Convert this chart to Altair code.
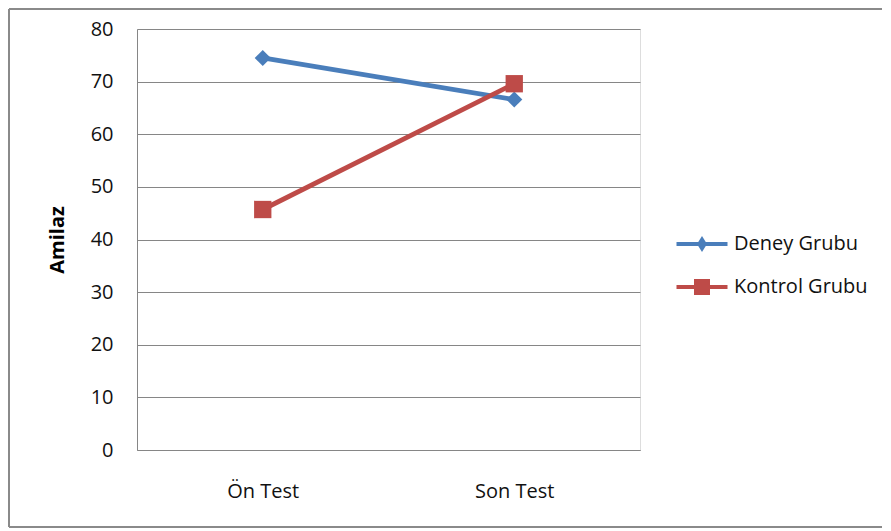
import altair as alt
import pandas as pd

tests = ["Ön Test", "Son Test"]
groups = ["Deney Grubu", "Kontrol Grubu"]
deney = [74.5, 66.6]
kontrol = [45.7, 69.6]
colors = ["#4A7EBB", "#BE4B48"]
y_ticks = [0, 10, 20, 30, 40, 50, 60, 70, 80]
legend_paths = [
    "M-2.55,-0.2H2.55V0.2H-2.55Z M0,-0.8L0.5,0L0,0.8L-0.5,0Z",
    "M-2.55,-0.2H2.55V0.2H-2.55Z M-0.8,-0.8H0.8V0.8H-0.8Z",
]

rows = []
for g, vals in zip(groups, [deney, kontrol]):
    for t, v in zip(tests, vals):
        rows.append({"test": t, "group": g, "value": v})
df = pd.DataFrame(rows)

FONT = "Open Sans"
GRID = "#868686"
BORDER = "#8a8a8a"

x_enc = alt.X(
    "test:N", sort=tests, scale=alt.Scale(domain=tests),
    axis=alt.Axis(title=None, labelAngle=0, ticks=False, domainColor=GRID, domainWidth=1,
                  labelFontSize=20, labelPadding=31, labelColor="#111", grid=False, labelFont=FONT),
)
y_enc = alt.Y(
    "value:Q", scale=alt.Scale(domain=[0, 80], nice=False, zero=True),
    axis=alt.Axis(values=y_ticks, title="Amilaz", ticks=False, domainColor=GRID, domainWidth=1,
                  gridColor=GRID, gridWidth=1, gridOpacity=1, labelFontSize=20, labelPadding=24,
                  labelColor="#111", labelFont=FONT, titleFont=FONT, titleFontSize=20,
                  titleFontWeight="bold", titleColor="#000", titlePadding=23),
)

base = alt.Chart(df)
layers = []
for g, c, shp, sz in zip(groups, colors, ["diamond", "square"], [260, 300]):
    sub = base.transform_filter(alt.datum.group == g)
    layers.append(sub.mark_line(color=c, strokeWidth=4.8).encode(x=x_enc, y=y_enc))
    layers.append(sub.mark_point(color=c, filled=True, opacity=1, shape=shp, size=sz).encode(x=x_enc, y=y_enc))

leg = alt.Legend(title=None, orient="none", legendX=555, legendY=205, symbolSize=400,
                 symbolStrokeWidth=0, symbolOpacity=1, labelFont=FONT, labelFontSize=20,
                 labelColor="#111", labelOffset=22, rowPadding=23, labelLimit=200)
legend_layer = base.transform_filter("false").mark_point(filled=True, size=400, opacity=1).encode(
    x=x_enc, y=y_enc,
    color=alt.Color("group:N", scale=alt.Scale(domain=groups, range=colors), legend=leg),
    shape=alt.Shape("group:N", scale=alt.Scale(domain=groups, range=legend_paths), legend=leg),
)
layers.append(legend_layer)

one = alt.Data(values=[{"k": 1}])
top_rule = alt.Chart(one).mark_rule(color=BORDER, strokeWidth=2).encode(
    x=alt.value(-128), x2=alt.value(745), y=alt.value(-20))
left_rule = alt.Chart(one).mark_rule(color=BORDER, strokeWidth=2).encode(
    x=alt.value(-128), y=alt.value(-20), y2=alt.value(498))
bottom_rule = alt.Chart(one).mark_rule(color=BORDER, strokeWidth=2).encode(
    x=alt.value(-128), x2=alt.value(745), y=alt.value(498))

chart = alt.layer(top_rule, left_rule, bottom_rule, *layers).properties(
    width=503, height=421, padding=0
).configure_view(strokeWidth=0).configure(font=FONT)

chart.save("out.html", embed_options={"renderer": "svg", "actions": False})
